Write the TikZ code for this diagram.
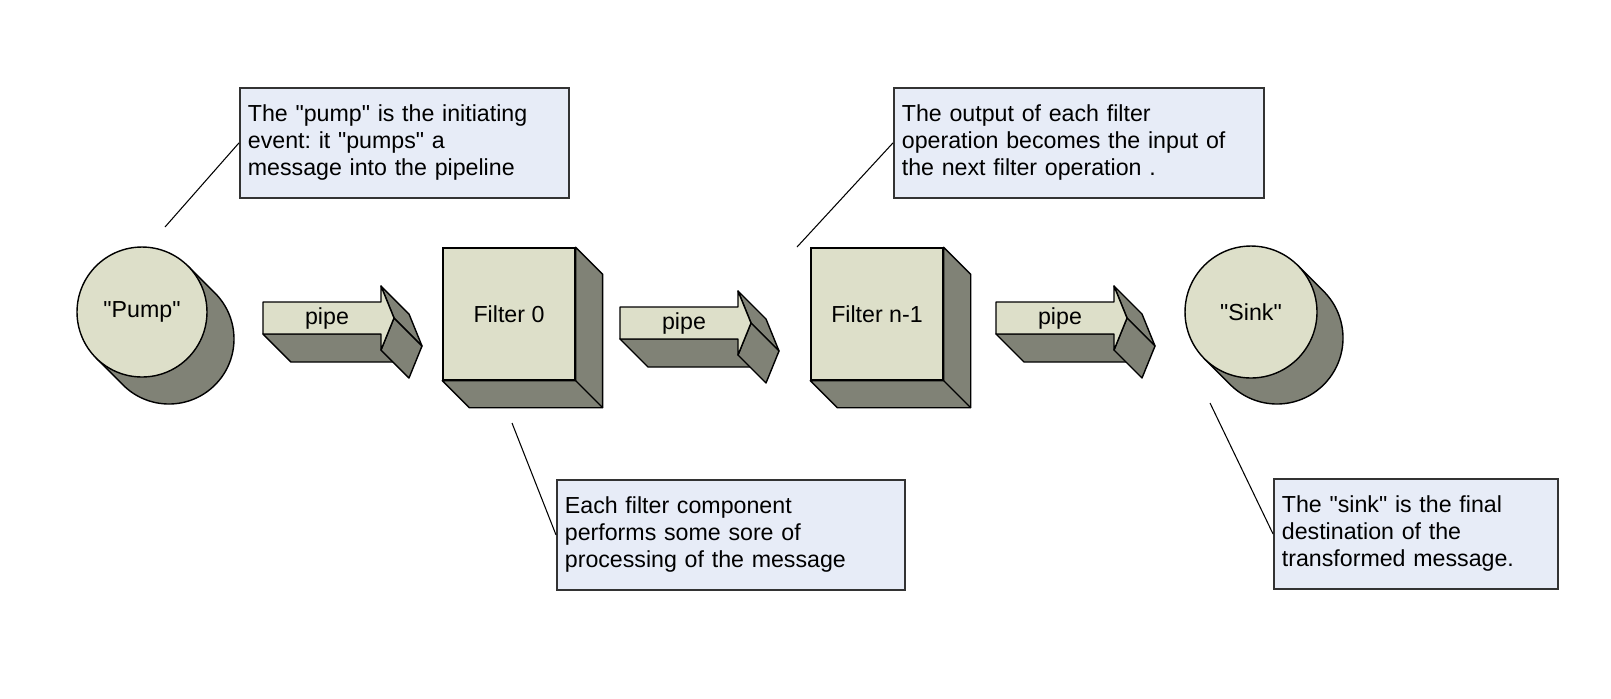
\documentclass[tikz,border=0pt]{standalone}
\usepackage{fontspec}
\setmainfont{Liberation Sans}[Ligatures = TeXOff]
\usepackage{tikz}
\usetikzlibrary{calc, positioning}

\definecolor{lightface}{RGB}{221,223,201}
\definecolor{darkface}{RGB}{128,130,118}
\definecolor{notefill}{RGB}{231,236,247}

\begin{document}
\frenchspacing
\begin{tikzpicture}[x = 0.02cm, y = -0.02cm,
    font = \fontsize{13.2}{15.4}\selectfont,
    front/.style = {draw, line width = 0.8pt, fill = lightface},
    side/.style = {draw, line width = 0.8pt, fill = darkface, line join = round},
    disc/.style = {front, circle, inner sep = 0pt},
    cube/.style = {front, inner sep = 0pt, minimum size = 2.64cm},
    note/.style = {draw = black!80, line width = 1pt, fill = notefill, anchor = north west,
                   align = left, inner xsep = 0.16cm, minimum height = 2.2cm},
    lead/.style = {line width = 0.6pt}]
  \fill[white] (0,0) rectangle (1611,698);
  \useasboundingbox (0,0) rectangle (1611,698);

  \coordinate (pumpc) at (142,312);
  \draw[side] ($(pumpc)+(-45:65)$) -- ++(27,27) arc[start angle = -45, end angle = 135, radius = 65]
              -- ($(pumpc)+(135:65)$) -- cycle;
  \node[disc, minimum size = 2.6cm] (pump) at (pumpc) {"Pump"};

  \coordinate (sinkc) at (1251,312);
  \draw[side] ($(sinkc)+(-45:66)$) -- ++(26,26) arc[start angle = -45, end angle = 135, radius = 66]
              -- ($(sinkc)+(135:66)$) -- cycle;
  \node[disc, minimum size = 2.64cm] (sink) at (sinkc) {"Sink"};

  \node[cube] (filter0) at (509,314) {Filter 0};
  \draw[side] (filter0.north east) -- ++(27,27) -- ($(filter0.south east)+(27,27)$)
              -- ($(filter0.south west)+(27,27)$) -- (filter0.south west) -- (filter0.south east) -- cycle;
  \draw[side] (filter0.south east) -- ++(27,27);

  \node[cube] (filtern) at (877,314) {Filter n-1};
  \draw[side] (filtern.north east) -- ++(27,27) -- ($(filtern.south east)+(27,27)$)
              -- ($(filtern.south west)+(27,27)$) -- (filtern.south west) -- (filtern.south east) -- cycle;
  \draw[side] (filtern.south east) -- ++(27,27);

  \foreach \lx/\cy/\nm in {263/318/pipeA, 620/323/pipeB, 996/318/pipeC} {
    \draw[side] (\lx,\cy+16) -- (\lx+118,\cy+16) -- ++(28,28) -- (\lx+28,\cy+44) -- cycle;
    \draw[side] (\lx+118,\cy-32) -- (\lx+131,\cy) -- ++(28,28) -- (\lx+146,\cy-4) -- cycle;
    \draw[side] (\lx+131,\cy) -- (\lx+118,\cy+32) -- ++(28,28) -- (\lx+159,\cy+28) -- cycle;
    \draw[front, line join = round] (\lx,\cy-16) -- (\lx+118,\cy-16) -- (\lx+118,\cy-32) -- (\lx+131,\cy)
          -- (\lx+118,\cy+32) -- (\lx+118,\cy+16) -- (\lx,\cy+16) -- cycle;
    \node (\nm) at (\lx+64,\cy) {pipe};
  }

  \node[note, text width = 6.26cm] (pumpnote) at (239,87)
       {The "pump" is the initiating\\event: it "pumps" a\\message into the pipeline};
  \node[note, text width = 7.08cm] (outnote) at (893,87)
       {The output of each filter\\operation becomes the input of\\the next filter operation .};
  \node[note, text width = 6.64cm] (filternote) at (556,479)
       {Each filter component\\performs some sore of\\processing of the message};
  \node[note, text width = 5.36cm] (sinknote) at (1273,478)
       {The "sink" is the final\\destination of the\\transformed message.};

  \coordinate (pumptip) at (165,227);
  \coordinate (outtip) at (797,247);
  \coordinate (filtertip) at (512,423);
  \coordinate (sinktip) at (1210,403);
  \draw[lead] (pumpnote.west) -- (pumptip);
  \draw[lead] (outnote.west) -- (outtip);
  \draw[lead] (filternote.west) -- (filtertip);
  \draw[lead] (sinknote.west) -- (sinktip);
\end{tikzpicture}
\end{document}
